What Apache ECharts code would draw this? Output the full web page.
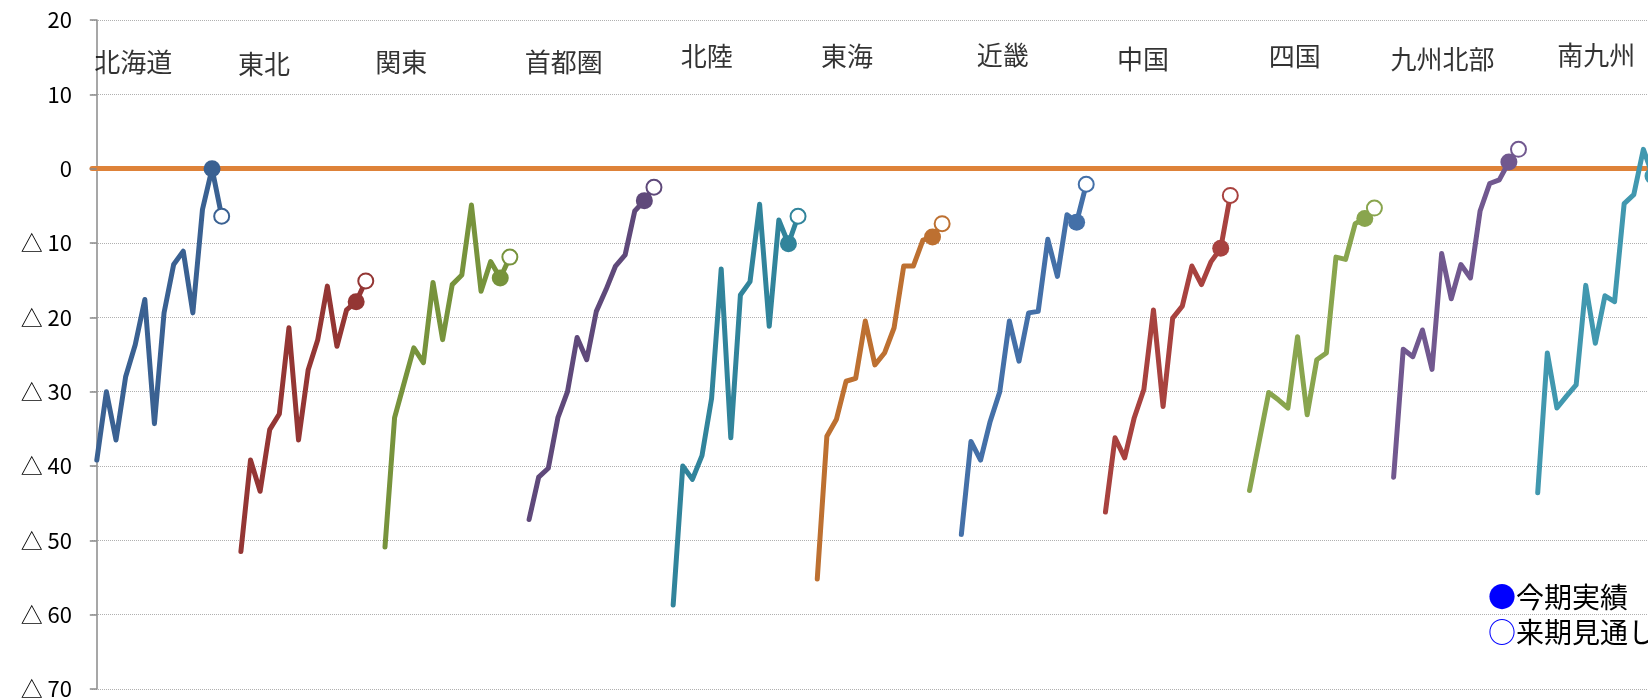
<!DOCTYPE html>
<html>
<head>
<meta charset="utf-8">
<title>地域別 推移</title>
<script src="https://cdn.jsdelivr.net/npm/echarts@6/dist/echarts.min.js"></script>
<style>
  html, body { margin: 0; padding: 0; background: #ffffff; overflow: hidden; }
  /* the canvas is wider than the page; the last region runs past the right edge */
  #chart { width: 1700px; height: 700px; }
</style>
</head>
<body>
<div id="chart"></div>
<script>
// Regions, left to right
const regions = ['北海道', '東北', '関東', '首都圏', '北陸', '東海', '近畿', '中国', '四国', '九州北部', '南九州'];

// Quarterly values per region; second-to-last = 今期実績, last = 来期見通し
const hokkaido  = [-39.2, -30.0, -36.5, -28.0, -23.7, -17.6, -34.3, -19.4, -12.9, -11.1, -19.4, -5.5, 0.0, -6.4];
const tohoku    = [-51.5, -39.2, -43.4, -35.1, -33.0, -21.4, -36.5, -27.1, -23.0, -15.8, -23.9, -19.0, -17.9, -15.1];
const kanto     = [-50.9, -33.5, -28.8, -24.1, -26.1, -15.3, -23.0, -15.6, -14.3, -4.9, -16.5, -12.5, -14.7, -11.9];
const shutoken  = [-47.2, -41.5, -40.3, -33.5, -30.0, -22.7, -25.7, -19.2, -16.3, -13.1, -11.6, -5.7, -4.3, -2.5];
const hokuriku  = [-58.7, -40.0, -41.8, -38.6, -30.9, -13.5, -36.2, -17.0, -15.2, -4.8, -21.2, -6.9, -10.1, -6.4];
const tokai     = [-55.2, -36.0, -33.7, -28.6, -28.2, -20.5, -26.4, -24.8, -21.4, -13.1, -13.1, -9.6, -9.2, -7.4];
const kinki     = [-49.2, -36.7, -39.2, -34.0, -30.0, -20.5, -25.9, -19.4, -19.2, -9.5, -14.5, -6.2, -7.2, -2.1];
const chugoku   = [-46.2, -36.2, -38.9, -33.5, -29.7, -19.0, -32.0, -20.1, -18.5, -13.1, -15.6, -12.5, -10.7, -3.6];
const shikoku   = [-43.3, -36.7, -30.1, -31.1, -32.2, -22.6, -33.1, -25.7, -24.8, -11.9, -12.2, -7.4, -6.7, -5.3];
const kyushuN   = [-41.5, -24.3, -25.3, -21.7, -27.0, -11.4, -17.5, -12.9, -14.7, -5.7, -2.0, -1.5, 0.9, 2.6];
const kyushuS   = [-43.6, -24.8, -32.2, -30.6, -29.1, -15.7, -23.5, -17.1, -17.9, -4.7, -3.5, 2.6, -1.0];

const regionValues = [hokkaido, tohoku, kanto, shutoken, hokuriku, tokai, kinki, chugoku, shikoku, kyushuN, kyushuS];

// Legend entries
const legendLabels = ['今期実績', '来期見通し'];

// Y axis range and tick step
const yMin = -70, yMax = 20, yStep = 10;

// ---- styling / layout ----
const regionColors = ['#3a6192', '#943634', '#77933c', '#5f497a', '#31849b', '#bd7031',
                      '#4470a8', '#a8423f', '#89a54e', '#71588f', '#4198af'];
const SLOTS = 15;          // 14 quarters + one spacer per region block
const ACTUAL_INDEX = 12;   // 今期実績
const FORECAST_INDEX = 13; // 来期見通し
// Region title anchor: [offset in slots from block start, y in axis units]
const titleAnchor = [[3.8, 14.3], [2.4, 14.0], [1.7, 14.4], [3.6, 14.3], [3.5, 15.1], [3.1, 15.1],
                     [4.3, 15.3], [3.9, 14.7], [4.7, 15.1], [5.1, 14.7], [6.1, 15.3]];
const JP = '"Noto Sans CJK JP", "Noto Sans", sans-serif';

const series = [];
regionValues.forEach((vals, g) => {
  const base = g * SLOTS;
  const color = regionColors[g];
  series.push({
    name: regions[g],
    type: 'line',
    data: vals.map((v, i) => [base + i, v]),
    symbol: 'none',
    lineStyle: { color: color, width: 5, cap: 'round', join: 'round' },
    z: 3,
    silent: true
  });
  const marks = [];
  if (vals.length > ACTUAL_INDEX) {
    marks.push({
      value: [base + ACTUAL_INDEX, vals[ACTUAL_INDEX]],
      symbolSize: 17,
      itemStyle: { color: color, borderWidth: 0, opacity: 1 }
    });
  }
  if (vals.length > FORECAST_INDEX) {
    marks.push({
      value: [base + FORECAST_INDEX, vals[FORECAST_INDEX]],
      symbolSize: 15,
      itemStyle: { color: '#ffffff', borderColor: color, borderWidth: 2, opacity: 1 }
    });
  }
  series.push({
    type: 'scatter',
    data: marks,
    symbol: 'circle',
    z: 4,
    silent: true
  });
});

// Region titles
series.push({
  type: 'scatter',
  data: regions.map((name, g) => ({
    name: name,
    value: [g * SLOTS + titleAnchor[g][0], titleAnchor[g][1]]
  })),
  symbol: 'circle',
  symbolSize: 1,
  itemStyle: { color: 'rgba(255,255,255,0)' },
  label: {
    show: true,
    position: 'inside',
    formatter: p => p.name,
    color: '#000000',
    fontSize: 26,
    fontFamily: JP
  },
  z: 5,
  silent: true
});

const chart = echarts.init(document.getElementById('chart'), null, { renderer: 'canvas' });
chart.setOption({
  animation: false,
  backgroundColor: '#ffffff',
  grid: { left: 92, right: 23, top: 20, bottom: 11, containLabel: false },
  xAxis: {
    type: 'value',
    min: -0.5,
    max: regions.length * SLOTS - 0.5,
    axisLine: { show: true, onZero: true, lineStyle: { color: '#de8239', width: 5, cap: 'round' } },
    axisTick: { show: false },
    axisLabel: { show: false },
    splitLine: { show: false }
  },
  yAxis: {
    type: 'value',
    min: yMin,
    max: yMax,
    interval: yStep,
    axisLine: { show: true, lineStyle: { color: '#8a8a8a', width: 1.5 } },
    axisTick: { show: true, length: 7, inside: false, lineStyle: { color: '#8a8a8a', width: 1.5 } },
    axisLabel: {
      margin: 20,
      color: '#000000',
      fontSize: 22,
      fontFamily: JP,
      formatter: v => (v < 0 ? '△ ' + (-v) : String(v))
    },
    splitLine: { show: true, lineStyle: { color: '#b0b0b0', width: 1, type: 'dotted' } }
  },
  graphic: [
    {
      type: 'text',
      left: 1488,
      top: 583,
      z: 10,
      style: {
        text: '{c|●}{t|' + legendLabels[0] + '}\n{c|○}{t|' + legendLabels[1] + '}',
        rich: {
          c: { fill: '#0000ff', fontSize: 28, fontFamily: JP, lineHeight: 35 },
          t: { fill: '#000000', fontSize: 28, fontFamily: JP, lineHeight: 35 }
        }
      }
    }
  ],
  series: series
});
</script>
</body>
</html>
